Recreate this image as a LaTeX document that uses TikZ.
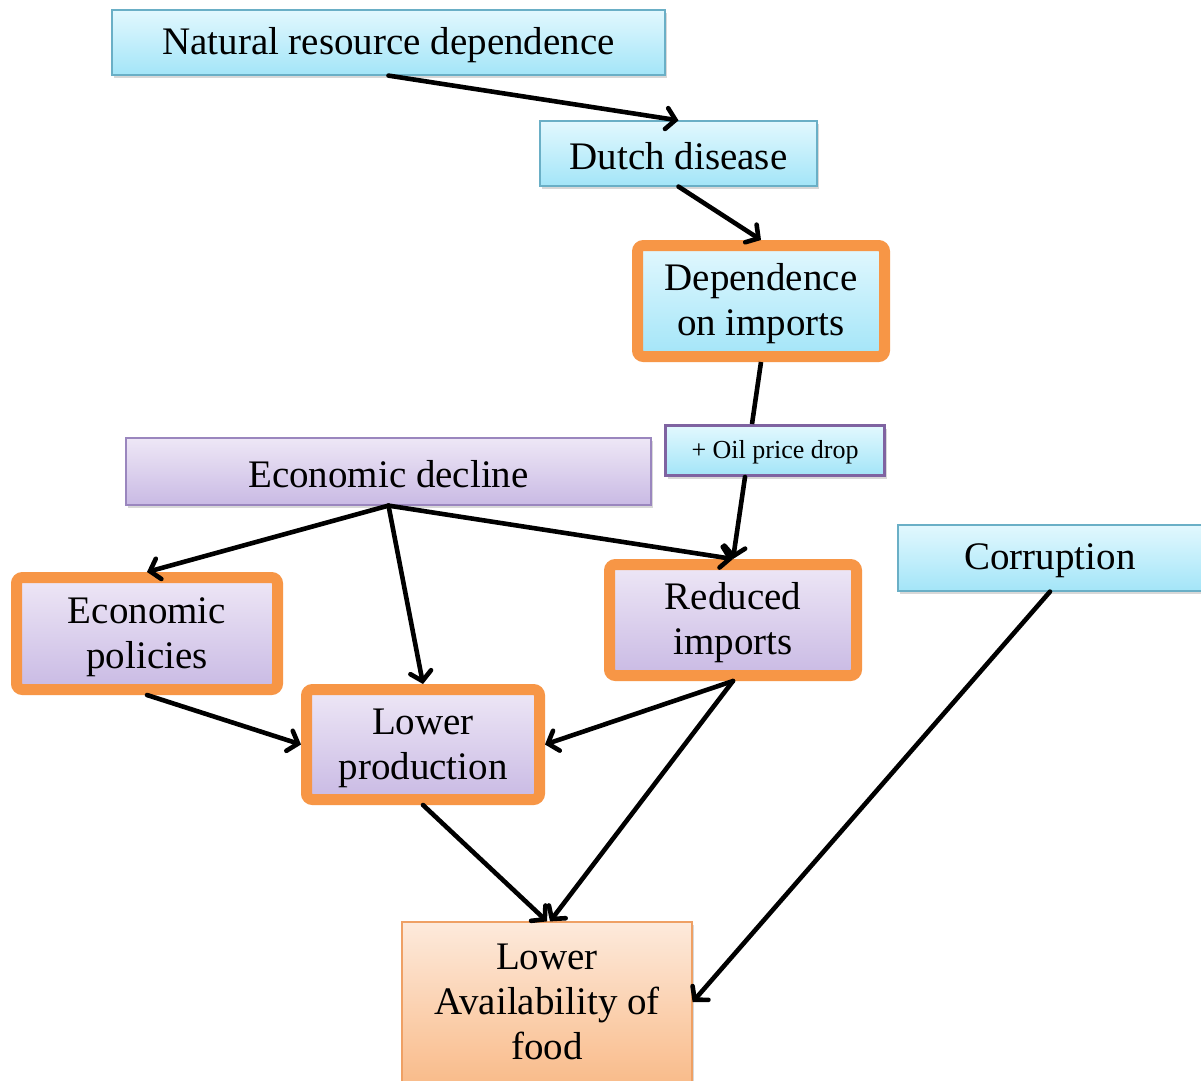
\documentclass[tikz,border=0pt]{standalone}
\usepackage{fontspec}
\setmainfont{Liberation Serif}
\usetikzlibrary{arrows.meta,shadows}
\definecolor{cyanT}{HTML}{E2F8FE}
\definecolor{cyanB}{HTML}{A3E5F8}
\definecolor{cyanD}{HTML}{6AAFC6}
\definecolor{purT}{HTML}{EEE7F6}
\definecolor{purB}{HTML}{C9BAE4}
\definecolor{purD}{HTML}{9A86BE}
\definecolor{purS}{HTML}{7F63A1}
\definecolor{orB}{HTML}{F79646}
\definecolor{foodT}{HTML}{FDEADC}
\definecolor{foodB}{HTML}{F9BC8B}
\definecolor{foodD}{HTML}{EFA064}
\begin{document}
\begin{tikzpicture}[x=1pt,y=-1pt,
  box/.style={rectangle, inner sep=0pt, align=center,
    font=\fontsize{39}{45}\selectfont,
    drop shadow={shadow xshift=2pt,shadow yshift=-3pt,opacity=0.3}},
  oneline/.style={text height=32pt},
  twoline/.style={text height=78pt},
  cyanbox/.style={box, top color=cyanT, bottom color=cyanB, draw=cyanD, line width=1.2pt},
  purbox/.style={box, top color=purT, bottom color=purB, draw=purD, line width=1.2pt},
  obord/.style={draw=orB, line width=11pt, rounded corners=6pt},
  arr/.style={line width=4.6pt, line cap=round, -{Straight Barb[length=9pt,width=21pt,line cap=round]}},
  seg/.style={line width=4.6pt}]
\useasboundingbox (0,0) rectangle (1201,1080);
\fill[white] (0,0) rectangle (1201,1080);

\node[cyanbox, oneline, minimum width=553pt, minimum height=65pt] (nrd) at (388.5,42.5) {Natural resource dependence};
\node[cyanbox, oneline, minimum width=277pt, minimum height=65pt] (dutch) at (678.5,153.5) {Dutch disease};
\node[cyanbox, obord, twoline, minimum width=247pt, minimum height=111pt] (dep) at (761,301) {Dependence\\on imports};
\node[box, top color=cyanT, bottom color=cyanB, draw=purS, line width=3pt,
      font=\fontsize{26}{30}\selectfont, text height=21pt, minimum width=219pt, minimum height=50pt] (oil) at (775,450.5) {+ Oil price drop};
\node[purbox, oneline, minimum width=525pt, minimum height=67pt] (ed) at (388.5,471.5) {Economic decline};
\node[purbox, obord, twoline, minimum width=261pt, minimum height=112pt] (pol) at (147,633.5) {Economic\\policies};
\node[purbox, obord, twoline, minimum width=233pt, minimum height=110pt] (lp) at (423,744.5) {Lower\\production};
\node[purbox, obord, twoline, minimum width=247pt, minimum height=111pt] (red) at (733,620) {Reduced\\imports};
\node[cyanbox, oneline, minimum width=304pt, minimum height=66pt] (corr) at (1050,558) {Corruption};
\node[box, top color=foodT, bottom color=foodB, draw=foodD, line width=1.2pt,
      minimum width=290pt, minimum height=160pt] (food) at (547,1002) {Lower\\Availability of\\food};

\draw[arr] (nrd.south) -- (dutch.north);
\draw[arr] (dutch.south) -- (dep.north);
\draw[seg] (dep.south) -- ([xshift=-23pt]oil.north);
\draw[arr] ([xshift=-30pt]oil.south) -- (red.north);
\draw[arr] (ed.south) -- (pol.north);
\draw[arr] (ed.south) -- (lp.north);
\draw[arr] (ed.south) -- (red.north);
\draw[arr] (pol.south) -- (lp.west);
\draw[arr] (red.south) -- (lp.east);
\draw[arr] (red.south) -- ([xshift=3pt]food.north);
\draw[arr] (lp.south) -- (food.north);
\draw[arr] (corr.south) -- (food.east);
\end{tikzpicture}
\end{document}
